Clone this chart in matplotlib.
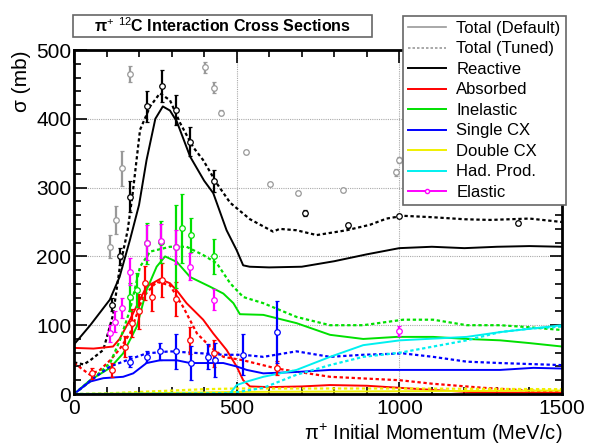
import matplotlib
matplotlib.use("Agg")
import matplotlib.pyplot as plt
from matplotlib.lines import Line2D
from matplotlib.patches import Rectangle

plt.rcParams['font.family'] = ['Liberation Sans', 'DejaVu Sans']
plt.rcParams['mathtext.fontset'] = 'custom'
plt.rcParams['mathtext.rm'] = 'Liberation Sans'
plt.rcParams['mathtext.it'] = 'Liberation Sans:italic'
plt.rcParams['mathtext.bf'] = 'Liberation Sans:bold'

# ---- curves (default = solid, tuned = dotted) ----
reac_x = [0, 50, 110, 140, 172, 200, 223, 250, 273, 295, 316, 357, 400, 428, 469, 500, 520, 540, 600, 700, 800, 900, 1000, 1100, 1200, 1300, 1400, 1500]
reac_y = [72, 100, 137, 170, 224, 275, 340, 400, 418, 412, 396, 345, 310, 292, 238, 209, 187, 185, 184, 185, 193, 203, 212, 214, 212, 214, 215, 214]
reacT_x = [0, 30, 50, 90, 120, 141, 165, 180, 203, 234, 264, 295, 326, 366, 397, 439, 480, 541, 612, 632, 684, 746, 838, 910, 961, 1012, 1100, 1200, 1279, 1400, 1500]
reacT_y = [46, 43, 49, 64, 115, 185, 238, 290, 384, 418, 437, 427, 394, 359, 340, 306, 278, 254, 236, 240, 238, 231, 238, 246, 255, 259, 257, 254, 253, 255, 250]

abs_x = [0, 60, 120, 140, 172, 200, 223, 264, 295, 320, 346, 397, 428, 469, 500, 520, 541, 600, 700, 787, 900, 1000, 1100, 1207, 1300, 1500]
abs_y = [67, 66, 69, 80, 108, 135, 156, 167, 161, 148, 132, 108, 88, 64, 40, 20, 11, 10, 11, 13, 12, 9, 6, 3, 2, 2]
absT_x = [0, 20, 49, 80, 111, 140, 172, 212, 254, 295, 335, 378, 418, 459, 520, 623, 787, 1002, 1100, 1258, 1400, 1500]
absT_y = [45, 38, 28, 35, 49, 65, 88, 141, 163, 158, 127, 88, 69, 54, 49, 37, 25, 20, 15, 9, 5, 3]

inel_x = [0, 49, 111, 151, 193, 223, 254, 280, 316, 357, 418, 459, 490, 510, 582, 684, 787, 889, 992, 1104, 1207, 1310, 1400, 1500]
inel_y = [0, 20, 38, 59, 98, 151, 185, 200, 192, 170, 156, 146, 132, 116, 115, 103, 86, 80, 83, 83, 80, 78, 74, 69]
inelT_x = [0, 49, 111, 141, 172, 203, 234, 295, 346, 397, 439, 480, 520, 582, 684, 787, 889, 1012, 1104, 1207, 1310, 1400, 1500]
inelT_y = [0, 18, 45, 78, 122, 185, 207, 214, 214, 202, 190, 161, 141, 132, 112, 100, 100, 108, 108, 100, 100, 97, 93]

scx_x = [0, 49, 90, 151, 182, 223, 264, 316, 357, 459, 500, 531, 582, 684, 787, 1033, 1310, 1412, 1500]
scx_y = [0, 18, 23, 25, 30, 45, 49, 49, 45, 45, 40, 35, 30, 32, 35, 35, 35, 38, 37]
scxT_x = [0, 49, 111, 162, 223, 295, 397, 459, 520, 582, 684, 787, 889, 1012, 1104, 1207, 1310, 1500]
scxT_y = [0, 19, 40, 49, 59, 62, 59, 57, 57, 54, 62, 54, 57, 59, 54, 47, 45, 42]

dcx_x = [0, 200, 500, 1000, 1500]
dcx_y = [0, 1, 3, 4, 5]
dcxT_x = [0, 100, 200, 300, 400, 500, 1000, 1500]
dcxT_y = [0, 1, 3, 5, 7, 8, 8, 7]

hp_x = [0, 470, 480, 500, 531, 582, 684, 787, 889, 1002, 1207, 1310, 1500]
hp_y = [0, 0, 1, 13, 18, 25, 35, 54, 71, 78, 83, 90, 100]
hpT_x = [0, 480, 582, 684, 787, 889, 1002, 1207, 1310, 1400, 1500]
hpT_y = [0, 1, 9, 28, 42, 54, 60, 78, 90, 95, 98]

# ---- data points ----
tot_x = [111, 129, 147, 172, 402, 431, 451, 529, 603, 688, 826, 989, 999]
tot_y = [214, 253, 328, 465, 475, 445, 409, 352, 305, 292, 297, 322, 340]
tot_e = [17, 20, 25, 12, 8, 8, 4, 3, 3, 3, 3, 5, 4]

rd_x = [116, 141, 172, 223, 270, 314, 357, 431, 710, 843, 1000, 1365]
rd_y = [130, 200, 287, 418, 448, 413, 367, 309, 263, 245, 259, 248]
rd_e = [10, 12, 22, 23, 23, 22, 21, 16, 4, 4, 3, 3]

ad_x = [54, 116, 157, 177, 200, 218, 239, 270, 314, 357, 431, 623]
ad_y = [30, 35, 69, 103, 120, 161, 141, 166, 138, 78, 59, 38]
ad_e = [8, 10, 15, 20, 25, 25, 20, 25, 25, 20, 20, 10]

id_x = [172, 193, 223, 268, 314, 331, 359, 431]
id_y = [141, 151, 219, 221, 214, 241, 231, 200]
id_e = [20, 25, 30, 30, 60, 50, 25, 25]

sd_x = [172, 223, 264, 314, 359, 413, 433, 520, 623]
sd_y = [47, 54, 62, 62, 45, 54, 49, 57, 90]
sd_e = [8, 8, 12, 25, 25, 18, 25, 30, 45]

ed_x = [111, 126, 147, 172, 223, 268, 314, 357, 431, 999]
ed_y = [88, 105, 125, 178, 220, 222, 214, 185, 137, 92]
ed_e = [12, 15, 15, 20, 25, 25, 25, 20, 15, 7]

RED, GREEN, BLUE, YEL, CYAN, MAG = '#ff0000', '#00e000', '#0000ff', '#f0f000', '#00f0f0', '#ff00ff'
dot = (0, (1.5, 1.2))

fig = plt.figure(figsize=(5.89, 4.45), dpi=100)
ax = fig.add_axes([74/589, 51/445, 488/589, 344/445])

ax.grid(True, which='major', color='#aaaaaa', linestyle=(0, (1, 1)), linewidth=0.8)
ax.set_xticks([0, 500, 1000, 1500])
ax.set_yticks([0, 100, 200, 300, 400, 500])

curves = [(reac_x, reac_y, reacT_x, reacT_y, 'black'),
          (abs_x, abs_y, absT_x, absT_y, RED),
          (inel_x, inel_y, inelT_x, inelT_y, GREEN),
          (scx_x, scx_y, scxT_x, scxT_y, BLUE),
          (dcx_x, dcx_y, dcxT_x, dcxT_y, YEL),
          (hp_x, hp_y, hpT_x, hpT_y, CYAN)]
for x, y, xt, yt, c in curves:
    ax.plot(x, y, color=c, lw=1.4)
    ax.plot(xt, yt, color=c, lw=1.6, linestyle=dot)

pts = [(tot_x, tot_y, tot_e, '#999999'),
       (rd_x, rd_y, rd_e, 'black'),
       (ad_x, ad_y, ad_e, RED),
       (id_x, id_y, id_e, GREEN),
       (sd_x, sd_y, sd_e, BLUE),
       (ed_x, ed_y, ed_e, MAG)]
for x, y, e, c in pts:
    ax.errorbar(x, y, yerr=e, fmt='o', ms=4, mfc='white', mec=c, ecolor=c,
                elinewidth=1.6, capsize=1.5, mew=0.9, zorder=4)

ax.set_xlim(0, 1500)
ax.set_ylim(0, 500)
ax.set_xticks(range(0, 1501, 100), minor=True)
ax.set_yticks(range(0, 501, 20), minor=True)
ax.tick_params(which='both', direction='in', top=True, right=True, labelsize=15, width=1.2)
ax.tick_params(which='major', length=9)
ax.tick_params(which='minor', length=5)
ax.tick_params(axis='y', pad=2)
for s in ax.spines.values():
    s.set_linewidth(2)

ax.set_ylabel('σ (mb)', fontsize=15, loc='top', labelpad=4)
ax.set_xlabel('π$^{+}$ Initial Momentum (MeV/c)', fontsize=14.5, loc='right', labelpad=3)

# title box
fig.patches.append(Rectangle((73/589, 1-37/445), 299/589, 22/445, transform=fig.transFigure,
                             fc='white', ec='#666666', lw=1.2))
fig.text(222/589, 1-26/445, 'π$^{+}$ $^{12}$C Interaction Cross Sections',
         ha='center', va='center', fontsize=11.5, fontweight='bold')

handles = [Line2D([], [], color='#999999', lw=1.2),
           Line2D([], [], color='#999999', lw=1.2, linestyle=dot),
           Line2D([], [], color='black', lw=1.4),
           Line2D([], [], color=RED, lw=1.4),
           Line2D([], [], color=GREEN, lw=1.4),
           Line2D([], [], color=BLUE, lw=1.4),
           Line2D([], [], color=YEL, lw=1.4),
           Line2D([], [], color=CYAN, lw=1.4),
           Line2D([], [], color=MAG, lw=1.4, marker='o', ms=3, mfc='white')]
labels = ['Total (Default)', 'Total (Tuned)', 'Reactive', 'Absorbed', 'Inelastic',
          'Single CX', 'Double CX', 'Had. Prod.', 'Elastic']
leg = fig.legend(handles, labels, loc='upper left', bbox_to_anchor=(403/589, 1-16/445),
                 fontsize=12, frameon=True, fancybox=False, edgecolor='#666666',
                 framealpha=1, labelspacing=0.33, handlelength=2.3, handletextpad=0.6,
                 borderpad=0.3, borderaxespad=0)
leg.get_frame().set_linewidth(1.2)

fig.savefig('out.png', dpi=100)
